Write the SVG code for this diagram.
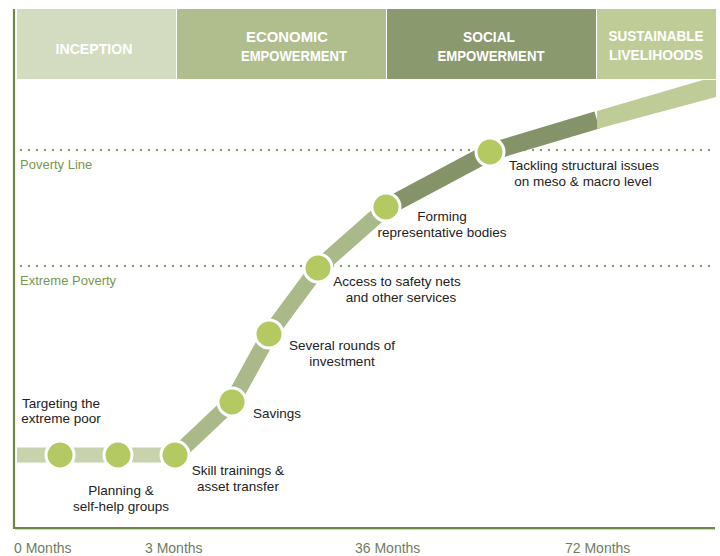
<svg xmlns="http://www.w3.org/2000/svg" width="720" height="556" viewBox="0 0 720 556">
  <style>
    .phase { font-family: "Liberation Sans", Arial, sans-serif; font-weight: bold; font-size: 15px; fill: #ffffff; text-anchor: middle; }
    .lbl { font-family: "Liberation Sans", Arial, sans-serif; font-size: 13.5px; fill: #222222; text-anchor: middle; }
    .level { font-family: "Liberation Sans", Arial, sans-serif; font-size: 13px; fill: #78964e; }
    .tick { font-family: "Liberation Sans", Arial, sans-serif; font-size: 14px; fill: #6f7d5f; }
    .dots { fill: none; stroke: #8a9a6c; stroke-width: 2.4; stroke-linecap: round; stroke-dasharray: 0 8; }
    .step { fill: #b5c962; stroke: #ffffff; stroke-width: 3; }
    .band { fill: none; stroke-linejoin: round; stroke-linecap: butt; }
  </style>

  <rect width="720" height="556" fill="#ffffff"/>

  <!-- phase header -->
  <g id="phases">
    <g id="phase-inception">
      <rect x="17" y="9" width="159" height="70" fill="#d3dbc0"/>
      <text class="phase" x="94" y="54" textLength="77" lengthAdjust="spacingAndGlyphs">INCEPTION</text>
    </g>
    <g id="phase-economic">
      <rect x="177" y="9" width="209" height="70" fill="#b0be8e"/>
      <text class="phase" x="287" y="42" textLength="82" lengthAdjust="spacingAndGlyphs">ECONOMIC</text>
      <text class="phase" x="294" y="61" textLength="106" lengthAdjust="spacingAndGlyphs">EMPOWERMENT</text>
    </g>
    <g id="phase-social">
      <rect x="387" y="9" width="209" height="70" fill="#8a996e"/>
      <text class="phase" x="489" y="42" textLength="52" lengthAdjust="spacingAndGlyphs">SOCIAL</text>
      <text class="phase" x="491" y="61" textLength="107" lengthAdjust="spacingAndGlyphs">EMPOWERMENT</text>
    </g>
    <g id="phase-sustainable">
      <rect x="597" y="9" width="119" height="70" fill="#c0cc98"/>
      <text class="phase" x="656" y="41" textLength="95" lengthAdjust="spacingAndGlyphs">SUSTAINABLE</text>
      <text class="phase" x="656" y="60" textLength="94" lengthAdjust="spacingAndGlyphs">LIVELIHOODS</text>
    </g>
  </g>

  <!-- axes -->
  <g id="axes">
    <line x1="14" y1="9" x2="14" y2="529" stroke="#6e8746" stroke-width="2.2"/>
    <line x1="13" y1="528" x2="715" y2="528" stroke="#6e8746" stroke-width="2.2"/>
    <line x1="15" y1="529.6" x2="715" y2="529.6" stroke="#c9d3b4" stroke-width="1"/>
    <text class="tick" x="14" y="553">0 Months</text>
    <text class="tick" x="145" y="553">3 Months</text>
    <text class="tick" x="355" y="553">36 Months</text>
    <text class="tick" x="565" y="553">72 Months</text>
  </g>

  <!-- income thresholds -->
  <g id="thresholds">
    <line class="dots" x1="21" y1="150" x2="712" y2="150"/>
    <text class="level" x="20" y="169">Poverty Line</text>
    <line class="dots" x1="21" y1="266" x2="712" y2="266"/>
    <text class="level" x="20" y="285">Extreme Poverty</text>
  </g>

  <!-- progression band -->
  <g id="connectors">
    <polyline class="band" points="17,455 177,455" stroke="#c8d3ae" stroke-width="15"/>
    <polyline class="band" points="176,455 232,402 270,333 318,268 387,207" stroke="#aab98a" stroke-width="16"/>
    <polyline class="band" points="387,207 490,152 597,120" stroke="#849468" stroke-width="17.5"/>
    <polygon points="597,111 703,80 716,80 716,97 597,129" fill="#c0cc98"/>
  </g>

  <!-- steps -->
  <g id="step-targeting">
    <circle class="step" cx="60" cy="455" r="14"/>
    <text class="lbl" x="61" y="408">Targeting the</text>
    <text class="lbl" x="61" y="423">extreme poor</text>
  </g>
  <g id="step-planning">
    <circle class="step" cx="118" cy="455" r="14"/>
    <text class="lbl" x="121" y="495">Planning &amp;</text>
    <text class="lbl" x="121" y="511">self-help groups</text>
  </g>
  <g id="step-skills">
    <circle class="step" cx="175" cy="455" r="14"/>
    <text class="lbl" x="238" y="475">Skill trainings &amp;</text>
    <text class="lbl" x="238" y="491">asset transfer</text>
  </g>
  <g id="step-savings">
    <circle class="step" cx="232" cy="402" r="14"/>
    <text class="lbl" x="277" y="418">Savings</text>
  </g>
  <g id="step-investment">
    <circle class="step" cx="269" cy="334" r="14"/>
    <text class="lbl" x="342" y="350">Several rounds of</text>
    <text class="lbl" x="342" y="366">investment</text>
  </g>
  <g id="step-safety-nets">
    <circle class="step" cx="318" cy="268" r="14"/>
    <text class="lbl" x="397" y="286">Access to safety nets</text>
    <text class="lbl" x="401" y="302">and other services</text>
  </g>
  <g id="step-representation">
    <circle class="step" cx="386" cy="207" r="14"/>
    <text class="lbl" x="442" y="221">Forming</text>
    <text class="lbl" x="442" y="237">representative bodies</text>
  </g>
  <g id="step-structural">
    <circle class="step" cx="490" cy="152" r="14"/>
    <text class="lbl" x="584" y="170">Tackling structural issues</text>
    <text class="lbl" x="583" y="186">on meso &amp; macro level</text>
  </g>
</svg>
